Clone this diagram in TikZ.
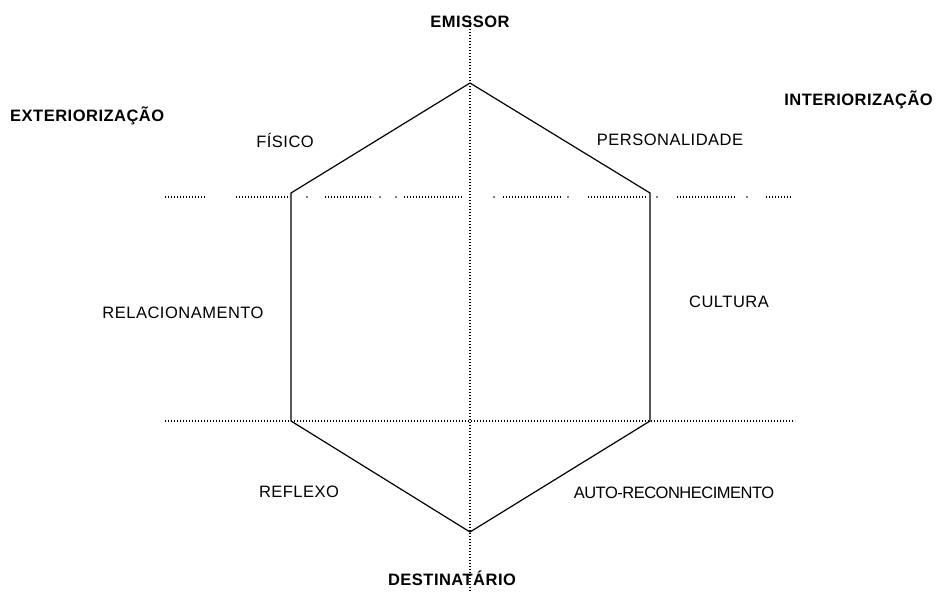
\documentclass[tikz,border=0pt]{standalone}
\usepackage{fontspec}
\setmainfont{Liberation Sans}[LetterSpace=3]
\begin{document}
\begin{tikzpicture}[x=1pt,y=-1pt,
  lbl/.style={inner sep=0pt,font=\fontsize{16.5}{19}\selectfont},
  head/.style={inner sep=0pt,font=\fontsize{16.5}{19}\selectfont\bfseries},
  hexline/.style={line width=1.2pt,line join=miter},
  dotline/.style={line width=1.1pt,dash pattern=on 1.1pt off 1.9pt}]
\useasboundingbox (0,0) rectangle (936,592);
% hexagon vertices
\coordinate (T) at (470,83);
\coordinate (UL) at (291,193);
\coordinate (UR) at (650,193);
\coordinate (LL) at (291,421);
\coordinate (LR) at (650,421);
\coordinate (B) at (470,532);
\coordinate (axtop) at (470,20);
\coordinate (axbot) at (470,592);
% axis
\draw[dotline] (axtop) -- (axbot);
% bottom dotted line
\coordinate (bl) at (165,421);
\coordinate (br) at (795,421);
\draw[dotline] (bl) -- (br);
% top dotted line segments
\foreach \a/\b in {165/205,236/290,325/373,404/462,503/561,588/647,677/735,766/791}
  \draw[dotline] (\a,197) -- (\b,197);
\foreach \a in {307,380,396,494,568,657,747}
  \fill (\a,197) circle (0.8pt);
% hexagon
\draw[hexline] (T) -- (UR) -- (LR) -- (B) -- (LL) -- (UL) -- cycle;
% labels
\node[head] (emissor) at (470,22) {EMISSOR};
\node[head] (dest) at (452,578) {DESTINATÁRIO};
\node[head,anchor=west] (ext) at (10,116) {EXTERIORIZAÇÃO};
\node[head,anchor=east] (int) at (933,100) {INTERIORIZAÇÃO};
\node[lbl] (fis) at (285,140) {FÍSICO};
\node[lbl] (pers) at (670,140) {PERSONALIDADE};
\node[lbl] (rel) at (183,313) {RELACIONAMENTO};
\node[lbl] (cult) at (729,302) {CULTURA};
\node[lbl] (refl) at (299,492) {REFLEXO};
\node[lbl] (auto) at (674,493) {\addfontfeature{LetterSpace=-3}AUTO-RECONHECIMENTO};
\end{tikzpicture}
\end{document}
